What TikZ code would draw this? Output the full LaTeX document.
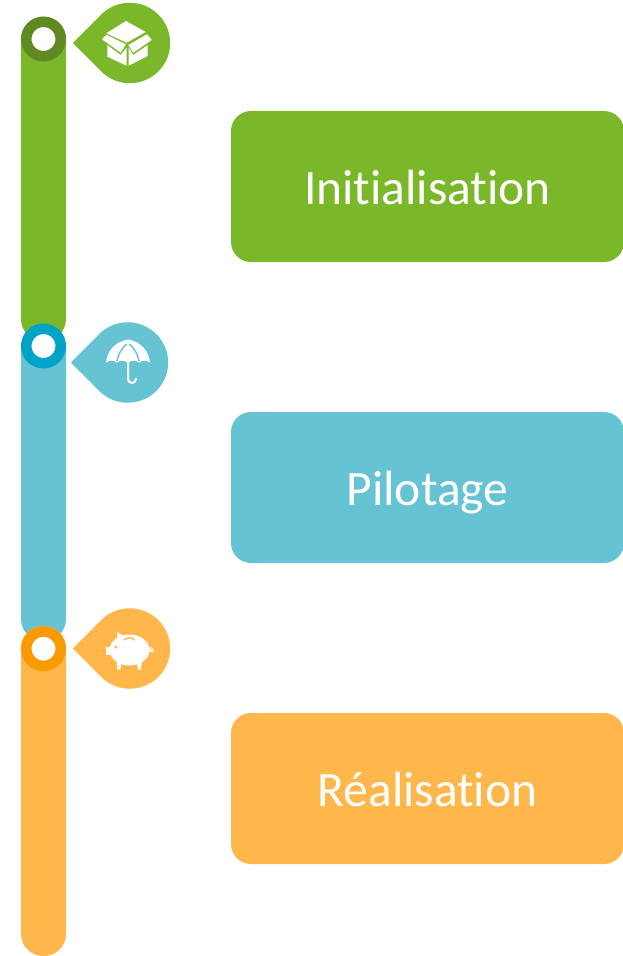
\documentclass[tikz,border=0pt]{standalone}
\usepackage{fontspec}
\setmainfont{Carlito}[Ligatures=NoCommon]
\definecolor{greenmain}{HTML}{7AB829}
\definecolor{greendark}{HTML}{5E8A21}
\definecolor{bluemain}{HTML}{66C3D3}
\definecolor{bluedark}{HTML}{00A2C7}
\definecolor{orangemain}{HTML}{FFB74B}
\definecolor{orangedark}{HTML}{F99B00}

\begin{document}
\begin{tikzpicture}[
    x=1pt, y=-1pt,
    bar/.style={rectangle, rounded corners=22pt, minimum width=45pt, inner sep=0pt},
    ring/.style={circle, fill=white, line width=10.5pt, minimum size=34.5pt, inner sep=0pt},
    stage/.style={rectangle, rounded corners=20pt, minimum width=393pt, minimum height=151pt,
      inner sep=0pt, text=white, text depth=0pt, font=\fontsize{49.5}{49.5}\selectfont},
    pin/.style={rounded corners=40.5pt},
    cut/.style={line width=1.4pt}
]
  \useasboundingbox (0,0) rectangle (623,956);

  % les barres verticales
  \node[bar, fill=greenmain, minimum height=324pt] (bar1) at (43.5,179) {};
  \node[bar, fill=bluemain, minimum height=316pt] (bar2) at (43.5,483) {};
  \node[bar, fill=orangemain, minimum height=330pt] (bar3) at (43.5,791) {};

  % les anneaux
  \node[ring, draw=greendark] (ring1) at (43.5,39) {};
  \node[ring, draw=bluedark] (ring2) at (43.5,346) {};
  \node[ring, draw=orangedark] (ring3) at (43.5,648.7) {};

  % les gouttes
  \fill[greenmain] (73,43) [pin] -- (129.5,-14) -- (187,43) -- (129.5,100) [sharp corners] -- cycle;
  \fill[bluemain] (71,362.5) [pin] -- (127.5,305.5) -- (185,362.5) -- (127.5,419.5) [sharp corners] -- cycle;
  \fill[orangemain] (73,648.5) [pin] -- (129.5,591.5) -- (187,648.5) -- (129.5,705.5) [sharp corners] -- cycle;

  % carton
  \fill[white] (126,21) -- (145.7,32) -- (126.7,42.7) -- (106.3,33.3) -- cycle;
  \fill[white] (106.3,34.7) -- (126,44.3) -- (120.7,52.7) -- (102,39.3) -- cycle;
  \fill[white] (128.3,45) -- (147,34.3) -- (151.7,40) -- (133.3,52.7) -- cycle;
  \fill[white] (107.3,45) -- (120.7,55) -- (126.5,47.7) -- (126.5,65.7) -- (107.3,56.7) -- cycle;
  \fill[white] (128.7,47.7) -- (133.3,55) -- (147.7,45) -- (147.7,56) -- (128.7,65.7) -- cycle;

  % parapluie
  \fill[white] (127.7,339.5) -- (128.5,339.5) .. controls (141,342) and (149,351) .. (150,362.7)
    .. controls (146,360) and (142,360) .. (139,362.7) .. controls (136,360) and (132,360) .. (128,362.7)
    .. controls (124,360) and (120,360) .. (117,362.7) .. controls (114,360) and (110,360) .. (106,362.7)
    .. controls (107,351) and (115,342) .. (127.7,339.5) -- cycle;
  \draw[bluemain, cut] (126.5,344) .. controls (121,349) and (118,355) .. (117,361);
  \draw[bluemain, cut] (129.5,344) .. controls (135,349) and (138,355) .. (139,361);
  \draw[white, line width=2pt, line cap=round] (128,361) -- (128,379) arc[start angle=180, end angle=360, radius=4pt];

  % cochon
  \fill[white] (129.5,650) ellipse[x radius=20pt, y radius=15.5pt];
  \fill[white] (106,646.5) rectangle (113,655);
  \fill[white] (117,632) -- (124,636) -- (118,642) -- cycle;
  \fill[white] (116.5,660) -- (121.5,660) -- (120.5,669.5) -- (117.5,669.5) -- cycle;
  \fill[white] (136.5,660) -- (142,660) -- (141,669.5) -- (138,669.5) -- cycle;
  \fill[orangemain] (115.7,647) circle[radius=1.6pt];
  \draw[orangemain, cut] (124,640) .. controls (128,637) and (131,637) .. (134.5,640);
  \draw[white, line width=0.9pt] (149,651) .. controls (152,653) and (154,648) .. (151,647.5) .. controls (149,648) and (150,652) .. (154,651.5);

  % les etapes
  \node[stage, fill=greenmain] (init) at (427.5,186.5) {\raisebox{-2.5pt}{Initialisation}};
  \node[stage, fill=bluemain] (pilot) at (427.5,487.5) {\raisebox{-2.5pt}{Pilotage}};
  \node[stage, fill=orangemain] (real) at (427.5,788.5) {\raisebox{-2.5pt}{Réalisation}};
\end{tikzpicture}
\end{document}
